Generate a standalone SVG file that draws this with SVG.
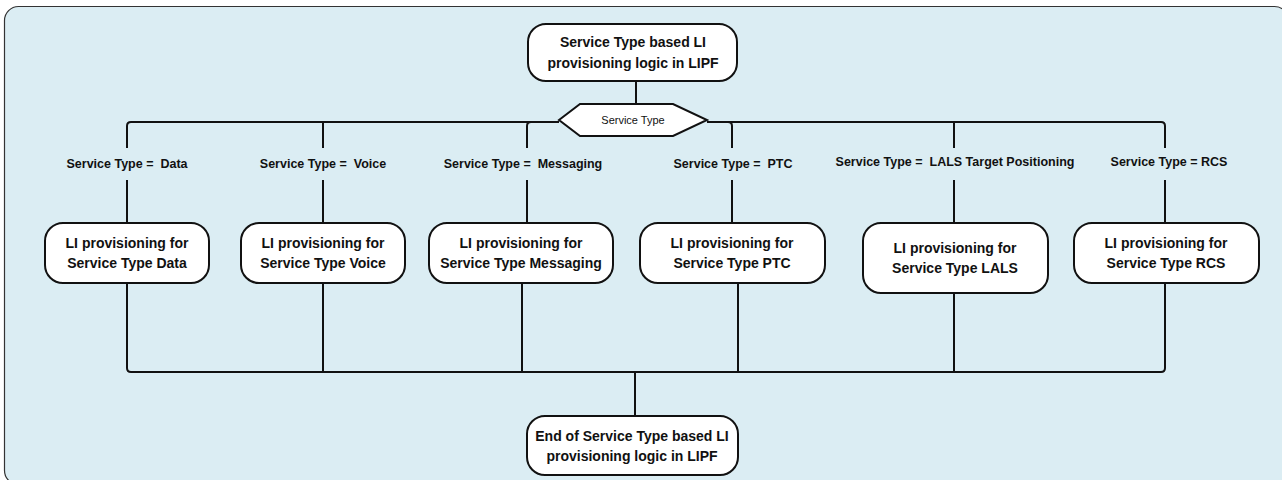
<svg xmlns="http://www.w3.org/2000/svg" width="1282" height="480" viewBox="0 0 1282 480">
<style>
.frame{fill:#dbedf3;stroke:#333;stroke-width:1.2}
.node{fill:#fff;stroke:#111;stroke-width:2}
.conn{fill:none;stroke:#111;stroke-width:2;stroke-linejoin:round}
.nt{font-family:"Liberation Sans",Arial,sans-serif;font-weight:bold;font-size:14px;fill:#111;text-anchor:middle}
.lbl{font-family:"Liberation Sans",Arial,sans-serif;font-weight:bold;font-size:12.5px;fill:#111;text-anchor:middle;white-space:pre}
.ht{font-family:"Liberation Sans",Arial,sans-serif;font-size:11px;fill:#111;text-anchor:middle}
</style>
<rect class="frame" x="4.5" y="6.5" width="1284" height="478" rx="14"/>
<g id="connectors">
<path class="conn" d="M636,81 V104"/>
<path class="conn" d="M127,148 V126 Q127,122 131,122 H559"/>
<path class="conn" d="M323,148 V122"/>
<path class="conn" d="M527,148 V126 Q527,122 531,122"/>
<path class="conn" d="M707,122 H1161 Q1165,122 1165,126 V148"/>
<path class="conn" d="M732,148 V126 Q732,122 728,122"/>
<path class="conn" d="M954,148 V122"/>
<path class="conn" d="M127,180 V223"/>
<path class="conn" d="M323,180 V223"/>
<path class="conn" d="M527,180 V223"/>
<path class="conn" d="M732,180 V223"/>
<path class="conn" d="M954,180 V223"/>
<path class="conn" d="M1165,180 V223"/>
<path class="conn" d="M127,283 V368 Q127,372 131,372 H1161 Q1165,372 1165,368 V283"/>
<path class="conn" d="M323,283 V372"/>
<path class="conn" d="M522,283 V372"/>
<path class="conn" d="M738,283 V372"/>
<path class="conn" d="M954,293 V372"/>
<path class="conn" d="M635,372 V416"/>
<text class="lbl" x="127" y="168" xml:space="preserve">Service Type =  Data</text>
<text class="lbl" x="323" y="168" xml:space="preserve">Service Type =  Voice</text>
<text class="lbl" x="523" y="168" xml:space="preserve">Service Type =  Messaging</text>
<text class="lbl" x="733" y="168" xml:space="preserve">Service Type =  PTC</text>
<text class="lbl" x="955" y="166" xml:space="preserve">Service Type =  LALS Target Positioning</text>
<text class="lbl" x="1169" y="166" xml:space="preserve">Service Type = RCS</text>
</g>
<g id="start">
<rect class="node" x="528" y="24" width="209" height="57" rx="18"/>
<text class="nt" x="633" y="47">Service Type based LI</text>
<text class="nt" x="633" y="68">provisioning logic in LIPF</text>
</g>
<g id="decision">
<polygon class="node" points="559,120 580,104 673,104 707,120 673,136 580,136"/>
<text class="ht" x="633" y="124">Service Type</text>
</g>
<g id="data">
<rect class="node" x="45" y="223" width="164" height="60" rx="18"/>
<text class="nt" x="127" y="248">LI provisioning for</text>
<text class="nt" x="127" y="268">Service Type Data</text>
</g>
<g id="voice">
<rect class="node" x="241" y="223" width="164" height="60" rx="18"/>
<text class="nt" x="323" y="248">LI provisioning for</text>
<text class="nt" x="323" y="268">Service Type Voice</text>
</g>
<g id="messaging">
<rect class="node" x="429" y="223" width="184" height="60" rx="18"/>
<text class="nt" x="521" y="248">LI provisioning for</text>
<text class="nt" x="521" y="268">Service Type Messaging</text>
</g>
<g id="ptc">
<rect class="node" x="640" y="223" width="185" height="60" rx="18"/>
<text class="nt" x="732" y="248">LI provisioning for</text>
<text class="nt" x="732" y="268">Service Type PTC</text>
</g>
<g id="lals">
<rect class="node" x="863" y="223" width="185" height="70" rx="18"/>
<text class="nt" x="955" y="253">LI provisioning for</text>
<text class="nt" x="955" y="273">Service Type LALS</text>
</g>
<g id="rcs">
<rect class="node" x="1074" y="223" width="185" height="60" rx="18"/>
<text class="nt" x="1166" y="248">LI provisioning for</text>
<text class="nt" x="1166" y="268">Service Type RCS</text>
</g>
<g id="end">
<rect class="node" x="527" y="416" width="211" height="59" rx="18"/>
<text class="nt" x="632" y="441">End of Service Type based LI</text>
<text class="nt" x="632" y="461">provisioning logic in LIPF</text>
</g>
</svg>
